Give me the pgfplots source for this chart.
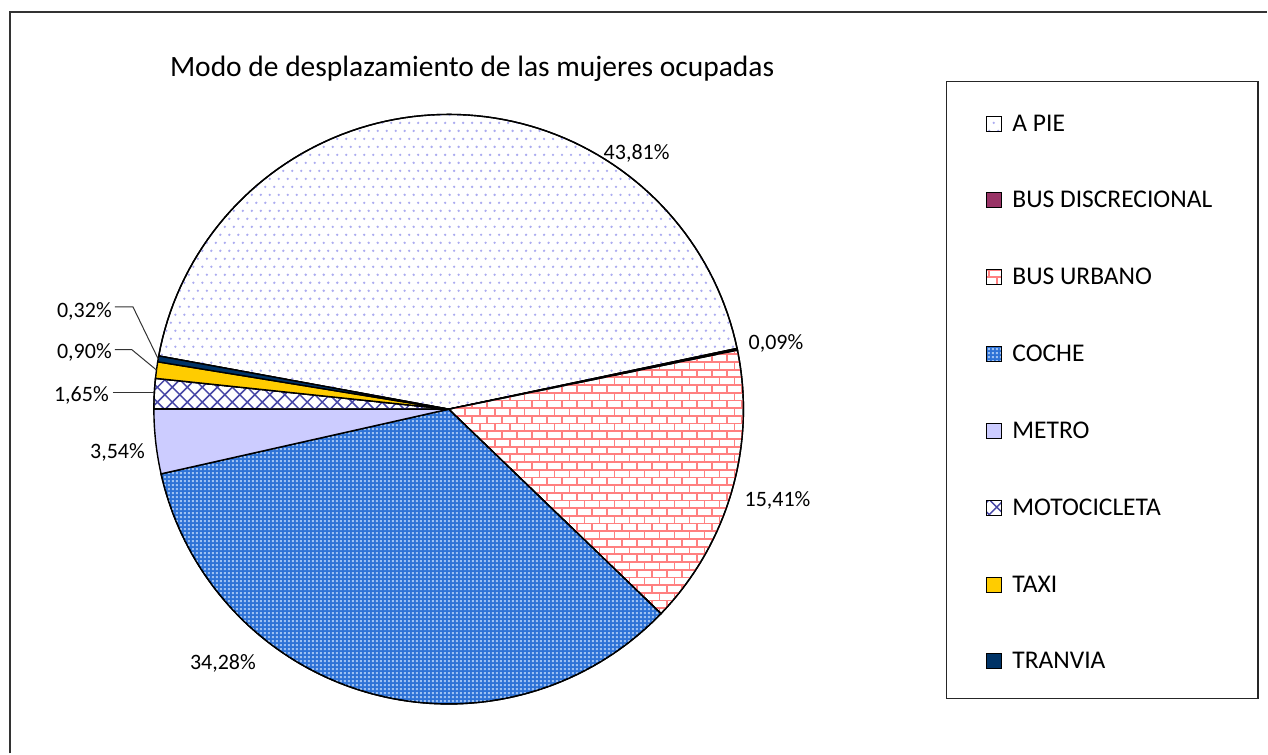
\documentclass[border=0pt]{standalone}
\usepackage{fontspec}
\setmainfont{Carlito}
\usepackage{pgfplots}
\pgfplotsset{compat=1.18}
\usetikzlibrary{patterns}

\definecolor{pieDot}{HTML}{ABABF0}
\definecolor{busDisc}{HTML}{993366}
\definecolor{brickRed}{HTML}{FF8080}
\definecolor{cocheBlue}{HTML}{2E72D6}
\definecolor{cocheDot}{HTML}{9CC0F2}
\definecolor{metroLav}{HTML}{CCCCFF}
\definecolor{motoNavy}{HTML}{4646A6}
\definecolor{taxiGold}{HTML}{FFCC00}
\definecolor{tranNavy}{HTML}{003366}

% fill patterns (1pt = 1 px of the reference)
\pgfdeclarepatternformonly{piedots}{\pgfqpoint{-2pt}{-2pt}}{\pgfqpoint{11pt}{18pt}}{\pgfqpoint{9pt}{16pt}}{%
  \pgfpathcircle{\pgfqpoint{0pt}{0pt}}{1.3pt}
  \pgfpathcircle{\pgfqpoint{4.5pt}{8pt}}{1.3pt}
  \pgfusepath{fill}}
\pgfdeclarepatternformonly{busbricks}{\pgfqpoint{-1pt}{-1pt}}{\pgfqpoint{16pt}{16.4pt}}{\pgfqpoint{15pt}{15.4pt}}{%
  \pgfsetlinewidth{1.8pt}
  \pgfpathmoveto{\pgfqpoint{-1pt}{0pt}}\pgfpathlineto{\pgfqpoint{16pt}{0pt}}
  \pgfpathmoveto{\pgfqpoint{-1pt}{7.7pt}}\pgfpathlineto{\pgfqpoint{16pt}{7.7pt}}
  \pgfpathmoveto{\pgfqpoint{0pt}{0pt}}\pgfpathlineto{\pgfqpoint{0pt}{7.7pt}}
  \pgfpathmoveto{\pgfqpoint{7.5pt}{7.7pt}}\pgfpathlineto{\pgfqpoint{7.5pt}{15.4pt}}
  \pgfusepath{stroke}}
\pgfdeclarepatternformonly{cochegrid}{\pgfqpoint{0pt}{0pt}}{\pgfqpoint{4pt}{4pt}}{\pgfqpoint{4pt}{4pt}}{%
  \pgfpathrectangle{\pgfqpoint{1pt}{1pt}}{\pgfqpoint{2pt}{2pt}}
  \pgfusepath{fill}}
\pgfdeclarepatternformonly{motolattice}{\pgfqpoint{-1pt}{-1pt}}{\pgfqpoint{16pt}{16pt}}{\pgfqpoint{15pt}{15pt}}{%
  \pgfsetlinewidth{1.5pt}
  \pgfpathmoveto{\pgfqpoint{0pt}{0pt}}\pgfpathlineto{\pgfqpoint{15pt}{15pt}}
  \pgfpathmoveto{\pgfqpoint{0pt}{15pt}}\pgfpathlineto{\pgfqpoint{15pt}{0pt}}
  \pgfusepath{stroke}}

\newcommand{\ttl}{\fontsize{29.5}{34}\selectfont}
\newcommand{\lbl}{\fontsize{22}{26}\selectfont}

% pie geometry, px of the reference
\def\cx{449}
\def\cy{344.5}
\def\rad{295}
\def\startang{169.6}
% #1 cumulative share before the slice, #2 share of the slice (%), #3 style
\newcommand{\slice}[3]{%
  \addplot[#3, draw=black, line width=1.4pt, samples=90, variable=\t,
    domain=\startang-3.6*(#1+#2):\startang-3.6*#1]
    ({\cx+\rad*cos(\t)}, {\cy+\rad*sin(\t)}) -- (axis cs:\cx,\cy) -- cycle;
}

\begin{document}
\begin{tikzpicture}
\fill[white] (0,0) rectangle (1268pt,754pt);
\begin{axis}[
  scale only axis, width=1268pt, height=754pt,
  xmin=0, xmax=1268, ymin=0, ymax=754,
  hide axis, clip=false,
  legend image code/.code={\draw[#1, line width=1pt] (0pt,0pt) rectangle (15pt,15pt);},
  legend style={draw=none, fill=none, at={(axis cs:987,642)}, anchor=north west,
    inner sep=0pt, row sep=51.9pt, column sep=10pt,
    font=\fontsize{25.5}{30}\selectfont,
    nodes={inner sep=0pt, text height=19pt, text depth=6pt},
    cells={anchor=base west}},
]
\slice{0}{43.81}{fill=white, postaction={pattern=piedots, pattern color=pieDot}}
\addlegendentry{A PIE}
\slice{43.81}{0.09}{fill=busDisc}
\addlegendentry{BUS DISCRECIONAL}
\slice{43.90}{15.41}{fill=white, postaction={pattern=busbricks, pattern color=brickRed}}
\addlegendentry{BUS URBANO}
\slice{59.31}{34.28}{fill=cocheBlue, postaction={pattern=cochegrid, pattern color=cocheDot}}
\addlegendentry{COCHE}
\slice{93.59}{3.54}{fill=metroLav}
\addlegendentry{METRO}
\slice{97.13}{1.65}{fill=white, postaction={pattern=motolattice, pattern color=motoNavy}}
\addlegendentry{MOTOCICLETA}
\slice{98.78}{0.90}{fill=taxiGold}
\addlegendentry{TAXI}
\slice{99.68}{0.32}{fill=tranNavy}
\addlegendentry{TRANVIA}

% leader lines for the small slices
\addplot[black!80, line width=1pt, forget plot] coordinates {(115,447) (133,447) (158.3,394.8)};
\addplot[black!80, line width=1pt, forget plot] coordinates {(115,404) (132,404) (156.6,383.7)};
\addplot[black!80, line width=1pt, forget plot] coordinates {(113,361) (154.4,361)};

% frame and legend box
\draw[line width=2pt, black!80] (axis cs:10,0) -- (axis cs:10,742) -- (axis cs:1268,742);
\draw[line width=1.5pt, black!85] (axis cs:947,55) rectangle (axis cs:1259,672.3);

\node[anchor=base, inner sep=0pt, font=\ttl] at (axis cs:472.5,677)
  {Modo de desplazamiento de las mujeres ocupadas};

\node[anchor=base west, inner sep=0pt, font=\lbl] at (axis cs:604,594) {43,81\%};
\node[anchor=base west, inner sep=0pt, font=\lbl] at (axis cs:749,404) {0,09\%};
\node[anchor=base west, inner sep=0pt, font=\lbl] at (axis cs:745,247) {15,41\%};
\node[anchor=base west, inner sep=0pt, font=\lbl] at (axis cs:190,84) {34,28\%};
\node[anchor=base west, inner sep=0pt, font=\lbl] at (axis cs:90,295) {3,54\%};
\node[anchor=base east, inner sep=0pt, font=\lbl] at (axis cs:112,436) {0,32\%};
\node[anchor=base east, inner sep=0pt, font=\lbl] at (axis cs:112,395) {0,90\%};
\node[anchor=base east, inner sep=0pt, font=\lbl] at (axis cs:109,352) {1,65\%};
\end{axis}
\end{tikzpicture}
\end{document}
